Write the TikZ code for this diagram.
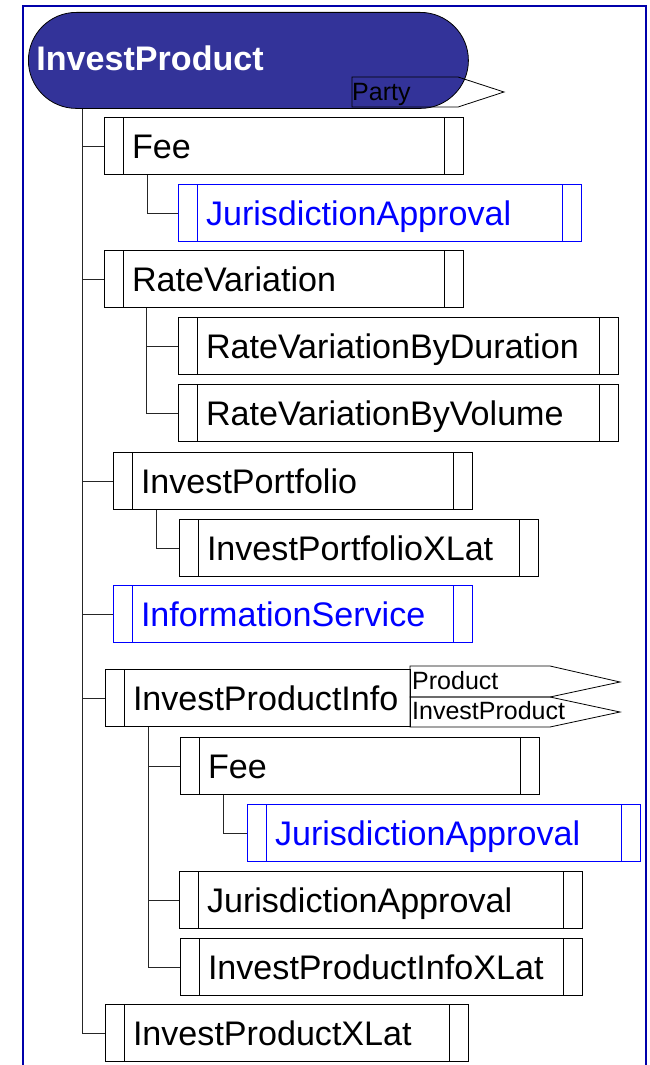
\documentclass[tikz,border=0pt]{standalone}
\usepackage{fontspec}
\setmainfont{Liberation Sans}
\usetikzlibrary{positioning}
\definecolor{rootblue}{RGB}{51,51,153}
\definecolor{framecol}{RGB}{0,0,170}
\definecolor{refblue}{RGB}{0,0,255}
\hyphenpenalty=10000
\newcommand\boxfont{\fontsize{34.1}{40}\selectfont}
\newcommand\tagfont{\fontsize{25}{30}\selectfont}
\tikzset{
boxbase/.style={rectangle, anchor=north west, line width=1pt,
minimum height=57pt, inner xsep=27.5pt, inner ysep=0pt,
/utils/exec={\pgfmathsetmacro\klasstw{#1-55}},
text width=\klasstw pt, align=left,
text height=25pt, text depth=0pt, font=\boxfont},
dividers/.style={path picture={
\draw[#1, line width=1pt] ([xshift=19pt]path picture bounding box.north west) -- ([xshift=19pt]path picture bounding box.south west);
\draw[#1, line width=1pt] ([xshift=-19pt]path picture bounding box.north east) -- ([xshift=-19pt]path picture bounding box.south east);}},
leftdivider/.style={path picture={
\draw[#1, line width=1pt] ([xshift=19pt]path picture bounding box.north west) -- ([xshift=19pt]path picture bounding box.south west);}},
klass/.style={boxbase=#1, draw=black, dividers=black},
klassref/.style={boxbase=#1, draw=refblue, text=refblue, dividers=refblue},
klassopen/.style={boxbase=#1, draw=black, leftdivider=black},
rootbox/.style={rectangle, anchor=north west, draw=black, line width=0.8pt,
fill=rootblue, rounded corners=48pt, minimum width=440pt, minimum height=96pt,
inner xsep=8pt, text width=424pt, align=left, text=white,
text height=24pt, text depth=4pt, font=\boxfont\bfseries},
tagbox/.style={draw=black, line width=0.8pt},
tagtext/.style={anchor=base west, inner sep=0pt, font=\tagfont},
wire/.style={draw=black!85, line width=1pt},
frame/.style={draw=framecol, line width=2.5pt}
}
\begin{document}
\begin{tikzpicture}[x=1pt,y=-1pt]
\useasboundingbox (0,0) rectangle (650,1065);
\draw[frame] (23,1075) -- (23,6) -- (646,6) -- (646,1075);
\node[rootbox] (root) at (28,12) {InvestProduct};
\draw[tagbox] (352,77) -- (458,77) -- (504,92) -- (458,107) -- (352,107) -- cycle;
\node[tagtext] (partytag) at (352,100) {Party};
\node[klass=359] (fee) at (104,117) {Fee};
\node[klassref=403] (feeja) at (178,184) {JurisdictionApproval};
\node[klass=359] (ratevar) at (104,250) {RateVariation};
\node[klass=440] (ratedur) at (178,317) {RateVariationByDuration};
\node[klass=440] (ratevol) at (178,384) {RateVariationByVolume};
\node[klass=359] (portfolio) at (113,452) {InvestPortfolio};
\node[klass=359] (portxlat) at (179,519) {InvestPortfolioXLat};
\node[klassref=359] (infoserv) at (113,585) {InformationService};
\node[klassopen=305] (prodinfo) at (105,669) {InvestProductInfo};
\draw[tagbox] (410,666) -- (550,666) -- (620,682) -- (550,697) -- (410,697) -- cycle;
\draw[tagbox] (410,697) -- (550,697) -- (620,712) -- (550,727) -- (410,727) -- cycle;
\node[tagtext] (producttag) at (412,689) {Product};
\node[tagtext] (investtag) at (412,719) {InvestProduct};
\node[klass=359] (infofee) at (180,737) {Fee};
\node[klassref=393] (infofeeja) at (247,804) {JurisdictionApproval};
\node[klass=403] (infoja) at (179,871) {JurisdictionApproval};
\node[klass=402] (infoxlat) at (180,938) {InvestProductInfoXLat};
\node[klass=363] (prodxlat) at (105,1004) {InvestProductXLat};
\coordinate (trunk) at ([xshift=54pt]root.south west);
\coordinate (feedrop) at ([xshift=43pt]fee.south west);
\coordinate (ratedrop) at ([xshift=42pt]ratevar.south west);
\coordinate (portdrop) at ([xshift=43pt]portfolio.south west);
\coordinate (infodrop) at ([xshift=43pt]prodinfo.south west);
\coordinate (infofeedrop) at ([xshift=43pt]infofee.south west);
\draw[wire] (trunk) |- (prodxlat.west);
\draw[wire] (trunk |- fee.west) -- (fee.west);
\draw[wire] (trunk |- ratevar.west) -- (ratevar.west);
\draw[wire] (trunk |- portfolio.west) -- (portfolio.west);
\draw[wire] (trunk |- infoserv.west) -- (infoserv.west);
\draw[wire] (trunk |- prodinfo.west) -- (prodinfo.west);
\draw[wire] (feedrop) |- (feeja.west);
\draw[wire] (ratedrop) |- (ratevol.west);
\draw[wire] (ratedrop |- ratedur.west) -- (ratedur.west);
\draw[wire] (portdrop) |- (portxlat.west);
\draw[wire] (infodrop) |- (infoxlat.west);
\draw[wire] (infodrop |- infofee.west) -- (infofee.west);
\draw[wire] (infodrop |- infoja.west) -- (infoja.west);
\draw[wire] (infofeedrop) |- (infofeeja.west);
\end{tikzpicture}
\end{document}
